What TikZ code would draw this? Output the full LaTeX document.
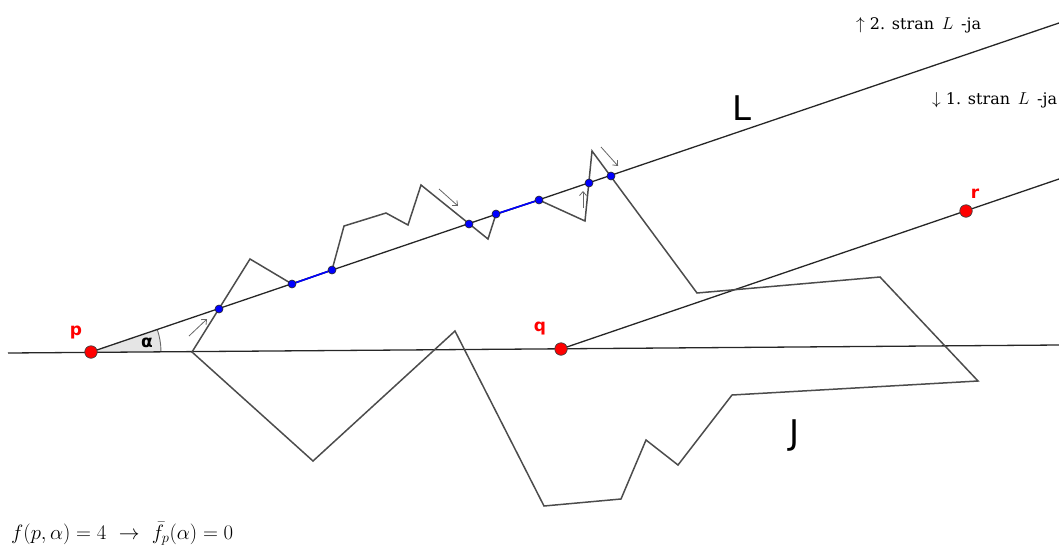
\documentclass[tikz,border=0pt]{standalone}
\usepackage{fontspec}
\usetikzlibrary{arrows.meta,backgrounds}
\newfontfamily\geofont{DejaVu Sans}
\newfontfamily\notefont{DejaVu Serif}

\begin{document}
\begin{tikzpicture}[x=1pt, y=-1pt,
    redpt/.style={circle, fill=red, draw=black!75, line width=0.7pt, inner sep=0pt, minimum size=12.5pt},
    bluept/.style={circle, fill=blue, draw=black!85, line width=0.6pt, inner sep=0pt, minimum size=8pt},
    redlbl/.style={text=red, font=\geofont\bfseries\fontsize{17}{17}\selectfont},
    biglbl/.style={font=\geofont\fontsize{34}{34}\selectfont},
    ray/.style={line width=1.3pt, black!85},
    poly/.style={line width=1.5pt, black!70},
    hint/.style={-{Straight Barb[length=4pt,width=7pt]}, line width=0.8pt, black!60}]
  \useasboundingbox (0,0) rectangle (1059,552);
  % far ends of the lines
  \coordinate (h0) at (8,353);
  \coordinate (h1) at (1059,345);
  \coordinate (l1) at (1059,23);
  \coordinate (m1) at (1059,179);
  % points p, q, r
  \node[redpt] (p) at (91,352) {};
  \node[redpt] (q) at (561,349) {};
  \node[redpt] (r) at (966,211) {};
  % intersections of J with L
  \foreach \x/\y [count=\i] in {219/309,292/284,332/270,469/224,
      496/214,539/200,589/183,611/176}
    \node[bluept] (b\i) at (\x,\y) {};
  % vertices of J
  \foreach \x/\y [count=\i] in {192/352,250/259,292/284,332/270,344/226,
      386/213,408/225,421/185,488/239,496/214,539/200,585/221,
      592/151,697/293,880/277,978/381,732/395,678/465,646/440,
      621/499,544/506,455/331,313/461}
    \coordinate (j\i) at (\x,\y);
  \begin{scope}[on background layer]
    % angle alpha
    \fill[gray!20] (p.center) -- ++(0.41:70pt)
      arc[start angle=0.41, end angle=18.77, radius=70pt] -- cycle;
    \draw[black!60, line width=0.9pt] (p.center) ++(0.41:70pt)
      arc[start angle=0.41, end angle=18.77, radius=70pt];
    \draw[ray] (h0) -- (h1);
    \draw[ray] (p.center) -- (l1);
    \draw[ray] (q.center) -- (m1);
    \draw[poly] (j1) \foreach \i in {2,...,23}{ -- (j\i)} -- cycle;
    \draw[blue, line width=1.6pt] (b2) -- (b3) (b5) -- (b6);
  \end{scope}
  % directions along J
  \draw[hint] (189,336) -- (207,319);
  \draw[hint] (439,189) -- (458,206);
  \draw[hint] (583,208) -- (583,191);
  \draw[hint] (601,147) -- (618,166);
  % labels
  \node[redlbl] (plbl) at (76,333) {p};
  \node[redlbl] (qlbl) at (540,329) {q};
  \node[redlbl] (rlbl) at (975,194) {r};
  \node[font=\geofont\bfseries\fontsize{17}{17}\selectfont] (alpha) at (147,343) {α};
  \node[biglbl] (llbl) at (742,108) {L};
  \node[biglbl] (jlbl) at (795,436) {J};
  \node[anchor=base west, inner sep=0pt, font=\notefont\fontsize{16}{16}\selectfont]
    (side2) at (856,29) {$\uparrow$ 2. stran \,$L$\, -ja};
  \node[anchor=base west, inner sep=0pt, font=\notefont\fontsize{16}{16}\selectfont]
    (side1) at (932,104) {$\downarrow$ 1. stran \,$L$\, -ja};
  \node[anchor=base west, inner sep=0pt, font=\fontsize{22}{22}\selectfont]
    (formula) at (11,539) {$f(p,\alpha) = 4 \ \rightarrow\ \bar{f}_p(\alpha) = 0$};
\end{tikzpicture}
\end{document}
